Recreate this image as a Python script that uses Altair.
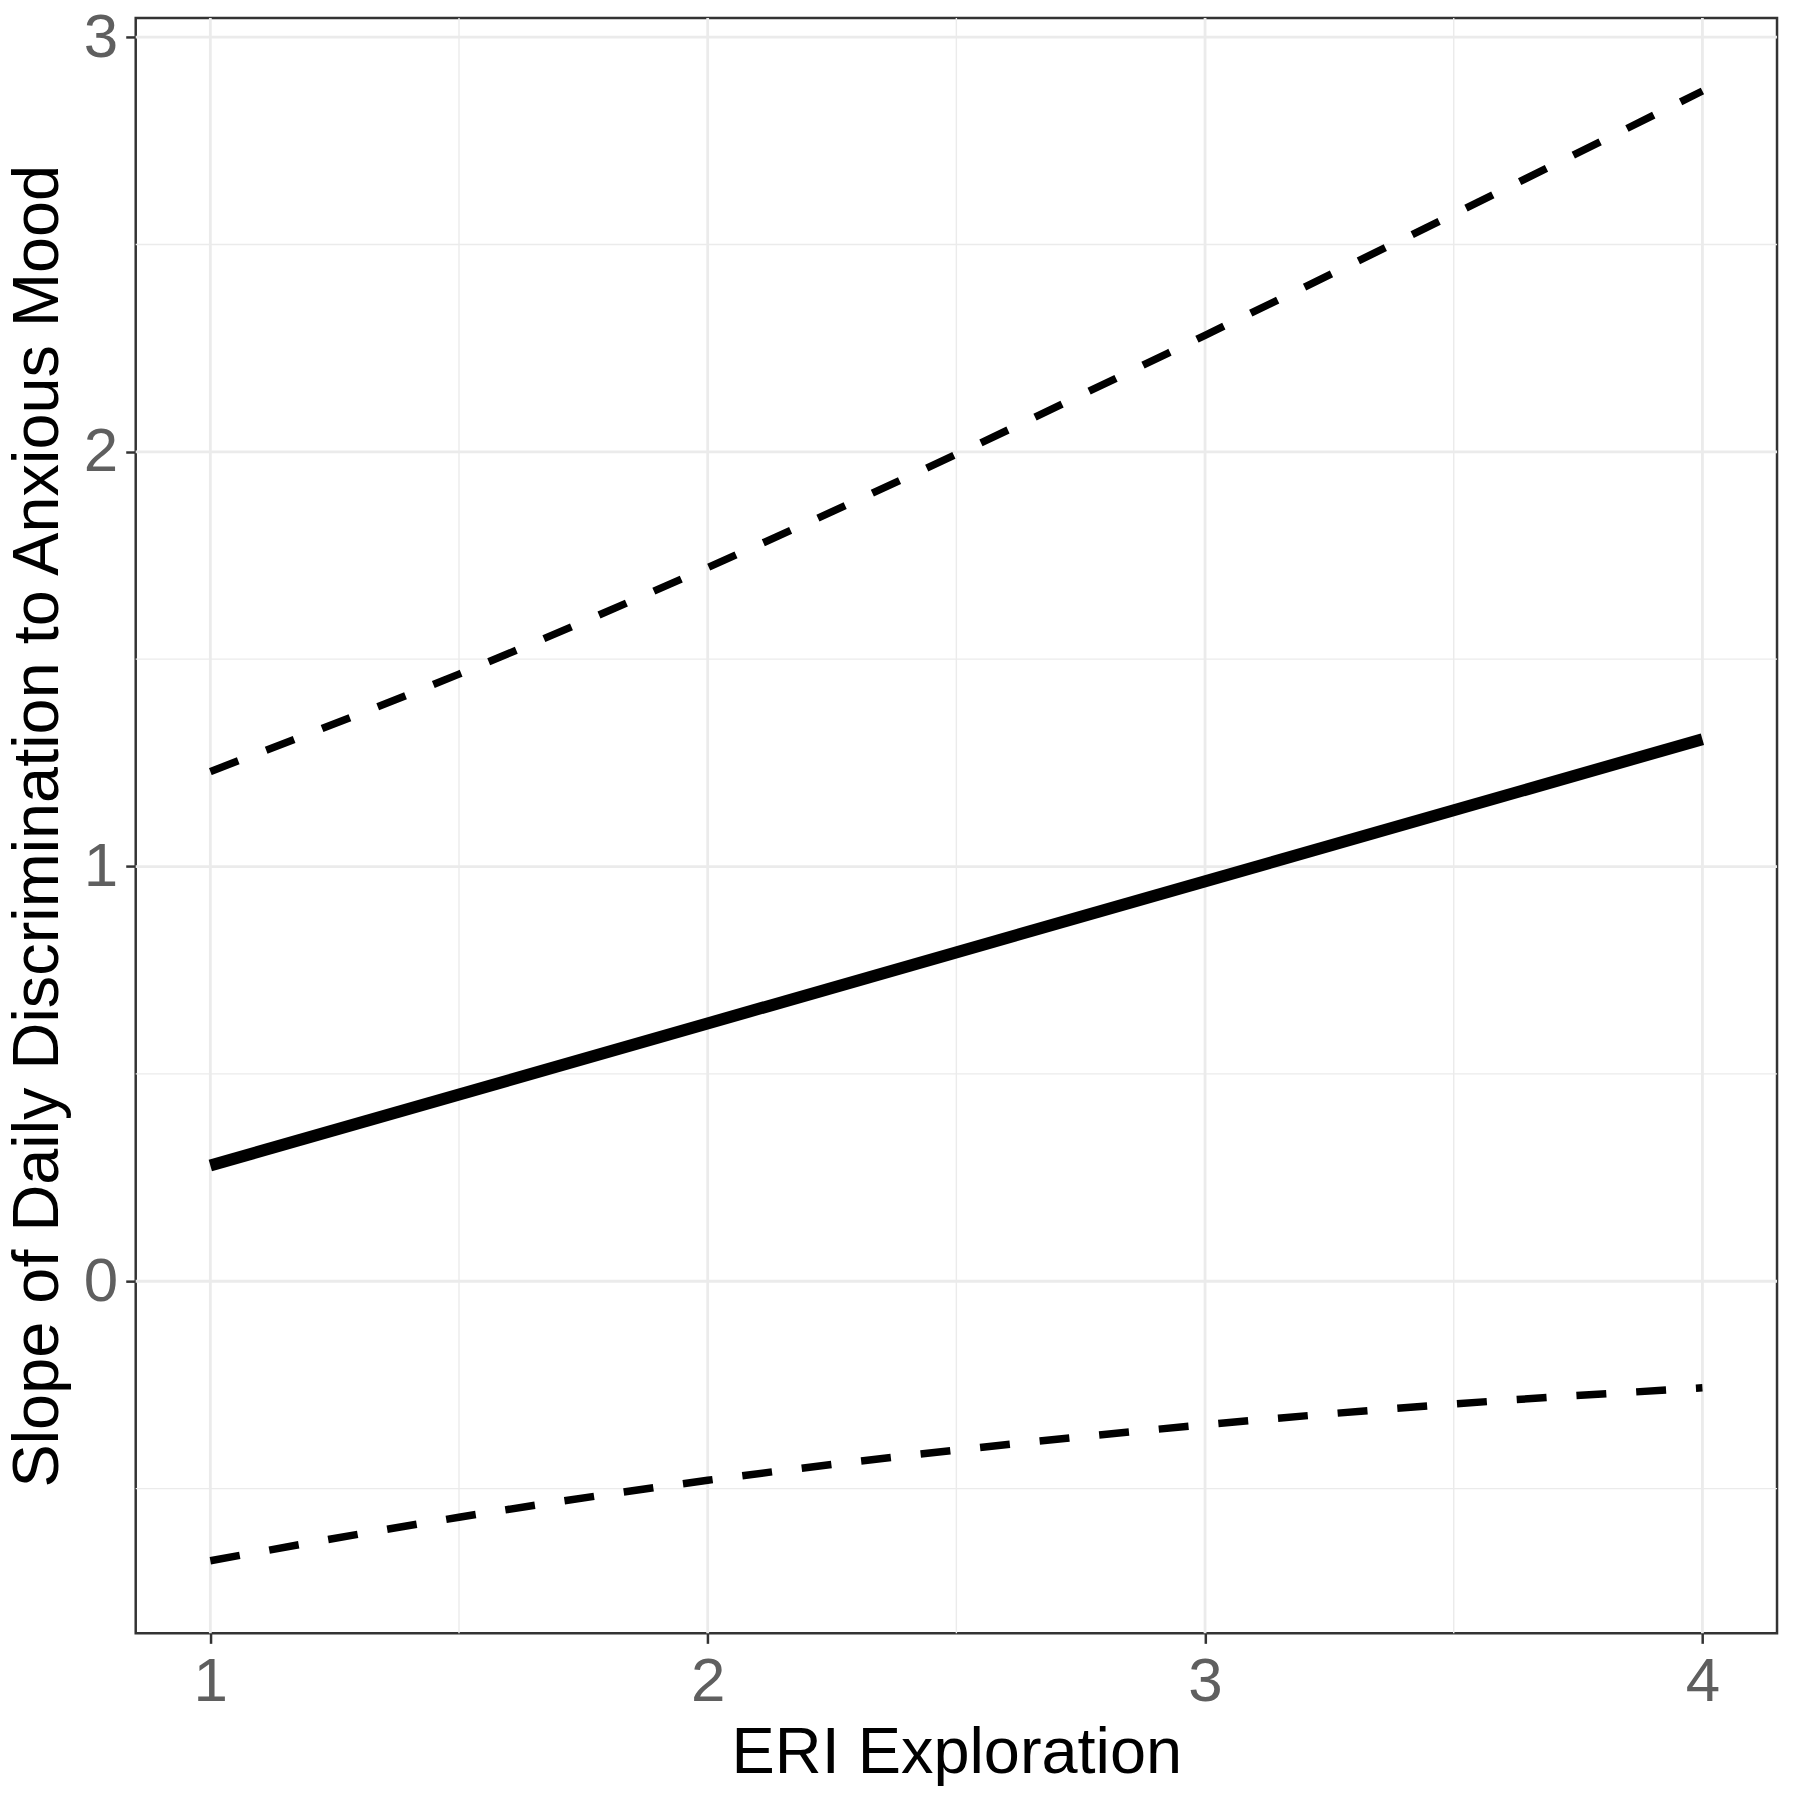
import altair as alt
import pandas as pd

# ---- data ----
x_est = [1, 4]
estimate = [0.279, 1.307]

x_ci = [1, 1.5, 2, 2.5, 3, 3.5, 4]
upper = [1.229, 1.464, 1.721, 1.994, 2.281, 2.573, 2.870]
lower = [-0.674, -0.569, -0.480, -0.407, -0.346, -0.296, -0.257]

x_major = [1, 2, 3, 4]
x_minor = [1.5, 2.5, 3.5]
y_major = [0, 1, 2, 3]
y_minor = [-0.5, 0.5, 1.5, 2.5]

x_title = "ERI Exploration"
y_title = "Slope of Daily Discrimination to Anxious Mood"

W, H = 1645, 1619
FONT = "Liberation Sans"
LABEL_COLOR = "#5F5F5F"

xs = alt.Scale(domain=[0.85, 4.15], nice=False, zero=False)
ys = alt.Scale(domain=[-0.849, 3.046], nice=False, zero=False)

xaxis = alt.Axis(
    values=x_major, format="d", grid=False, domain=False,
    tickSize=10, tickWidth=2.5, tickColor="#333333",
    labelFont=FONT, labelFontSize=62, labelColor=LABEL_COLOR,
    labelBaseline="alphabetic", labelPadding=57, labelFlush=False,
    title=x_title, titleFont=FONT, titleFontSize=65, titleFontWeight="normal",
    titleColor="black", titleBaseline="alphabetic", titleAlign="center",
    titleX=W / 2, titleY=139,
)
yaxis = alt.Axis(
    values=y_major, format="d", grid=False, domain=False,
    tickSize=10, tickWidth=2.5, tickColor="#333333",
    labelFont=FONT, labelFontSize=62, labelColor=LABEL_COLOR,
    labelPadding=8, labelFlush=False,
    title=y_title, titleFont=FONT, titleFontSize=65, titleFontWeight="normal",
    titleColor="black", titleBaseline="alphabetic", titleAlign="center",
    titleAngle=270, titleX=-78, titleY=H / 2,
)

est_df = pd.DataFrame({"x": x_est, "y": estimate})
ci_df = pd.DataFrame({"x": x_ci * 2, "y": upper + lower,
                      "band": ["upper"] * len(x_ci) + ["lower"] * len(x_ci)})
gx_major = pd.DataFrame({"x": x_major})
gx_minor = pd.DataFrame({"x": x_minor})
gy_major = pd.DataFrame({"y": y_major})
gy_minor = pd.DataFrame({"y": y_minor})

X = alt.X("x:Q", scale=xs, axis=xaxis)
Y = alt.Y("y:Q", scale=ys, axis=yaxis)

minor_x = alt.Chart(gx_minor).mark_rule(color="#EBEBEB", strokeWidth=1.4).encode(x=X)
minor_y = alt.Chart(gy_minor).mark_rule(color="#EBEBEB", strokeWidth=1.4).encode(y=Y)
major_x = alt.Chart(gx_major).mark_rule(color="#EBEBEB", strokeWidth=2.8).encode(x=X)
major_y = alt.Chart(gy_major).mark_rule(color="#EBEBEB", strokeWidth=2.8).encode(y=Y)

ci = alt.Chart(ci_df).mark_line(
    color="black", strokeWidth=7.5, strokeDash=[30, 30], interpolate="monotone",
    strokeCap="butt",
).encode(x=X, y=Y, detail="band:N")

est = alt.Chart(est_df).mark_line(color="black", strokeWidth=12, strokeCap="butt").encode(x=X, y=Y)

chart = alt.layer(minor_x, minor_y, major_x, major_y, ci, est).properties(
    width=W, height=H,
    autosize=alt.AutoSizeParams(type="none"),
    padding={"left": 128, "top": 8, "right": 12, "bottom": 165},
    background="white",
).configure_view(stroke="#333333", strokeWidth=2.5)

chart.save("out.html", embed_options={"renderer": "svg", "actions": False})
